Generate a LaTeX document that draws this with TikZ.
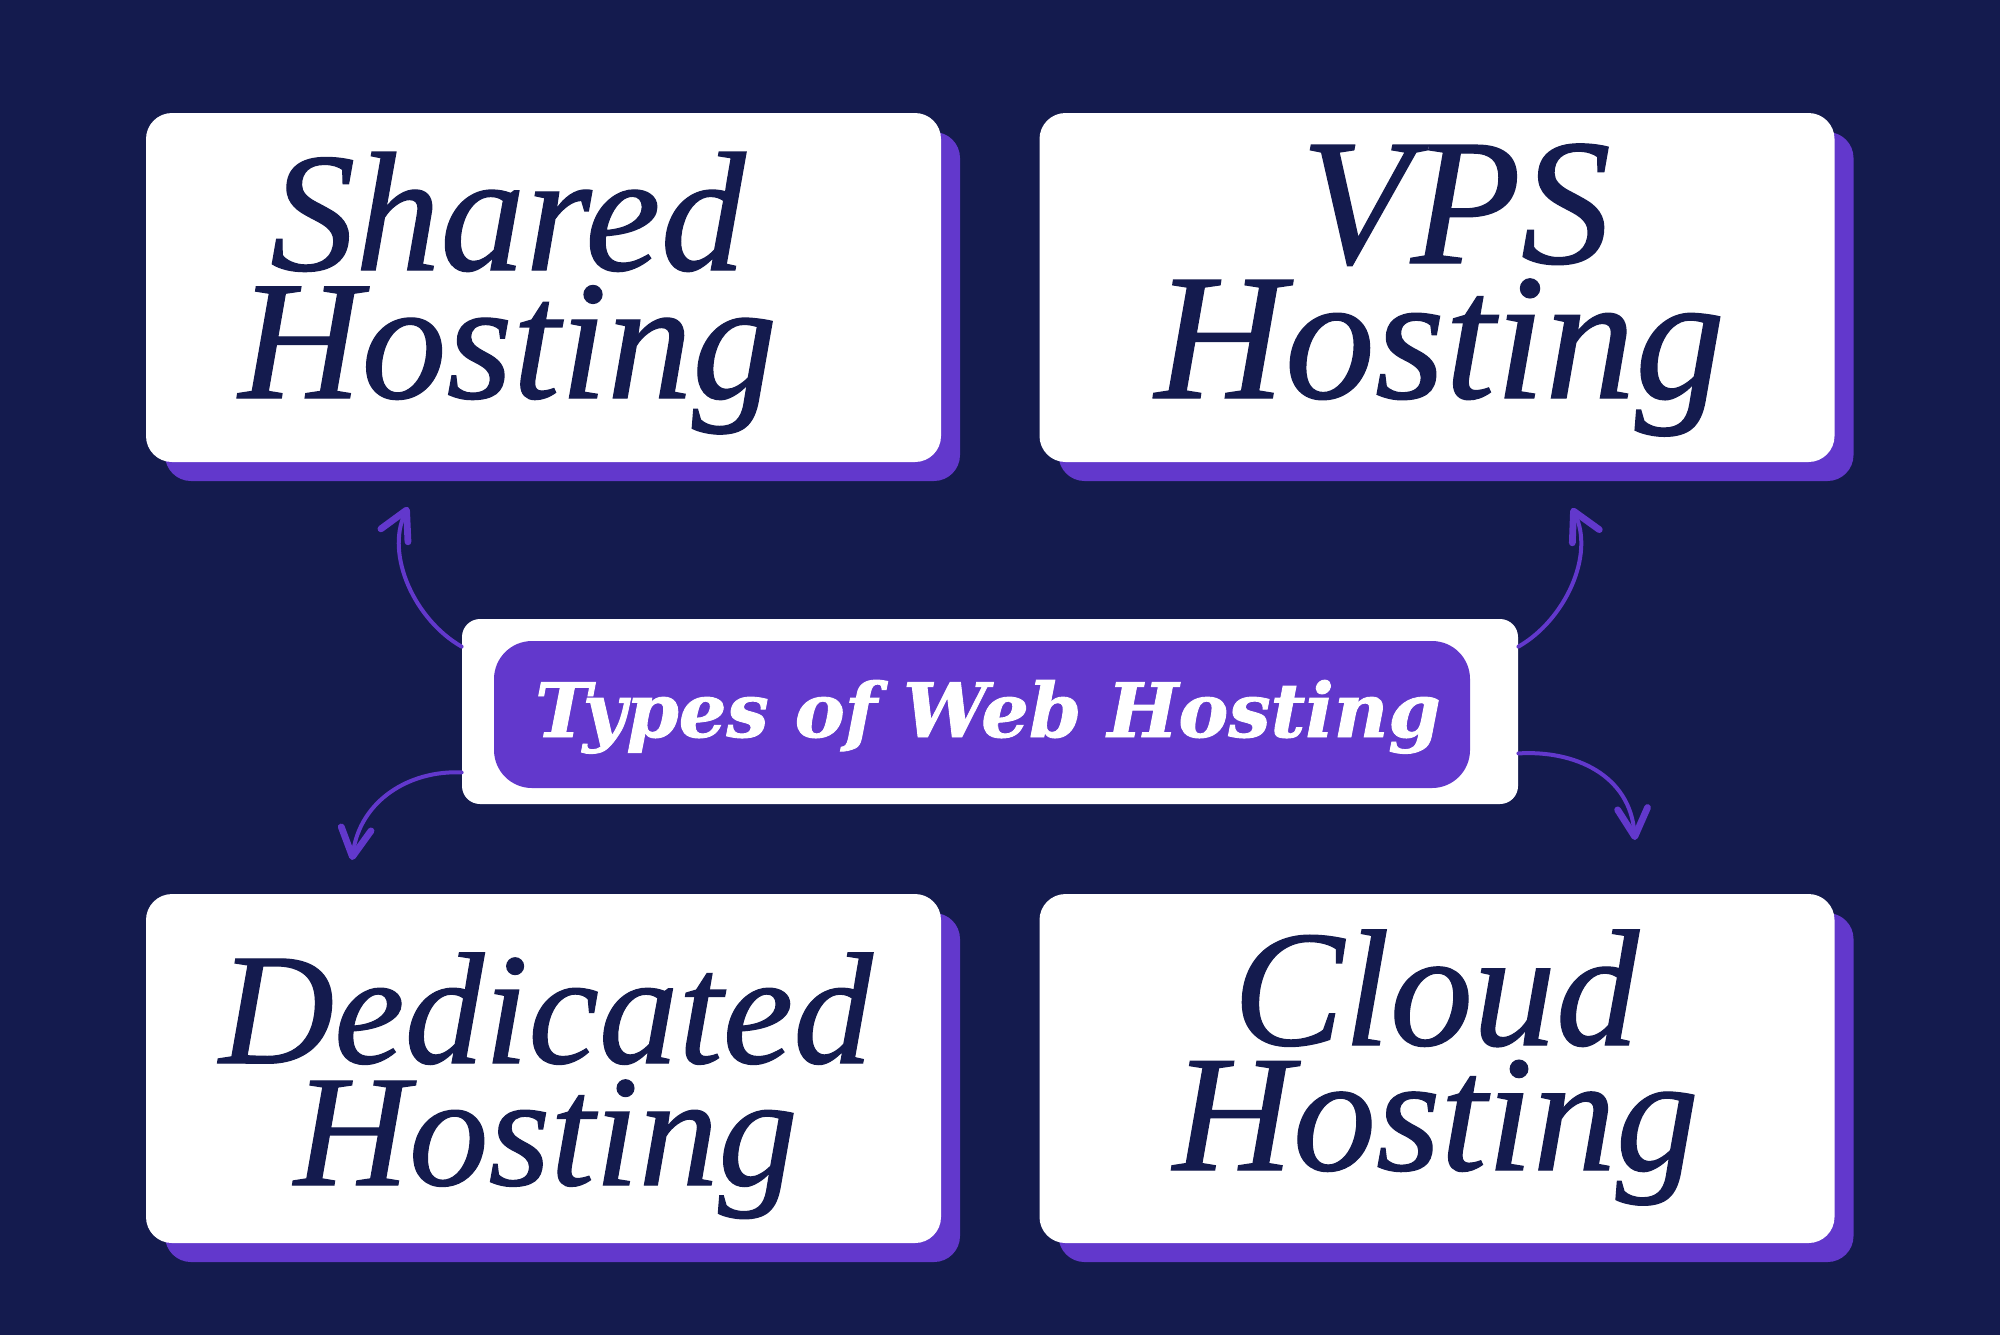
\documentclass[tikz,border=0pt]{standalone}
\usepackage{fontspec}
\usetikzlibrary{arrows.meta,calc,shadows}
\newfontfamily\boxfont{Liberation Serif}[UprightFont=* Italic, UprightFeatures={FakeBold=0.75}]
\newfontfamily\titlefont{DejaVu Serif}[UprightFont=* Bold Italic, UprightFeatures={FakeBold=1.2}]
\definecolor{navy}{HTML}{141B4E}
\definecolor{purp}{HTML}{6238CC}
\newcommand{\cardtext}[4]{\parbox[b]{390pt}{\centering\boxfont\fontsize{#1}{#2}\selectfont
  \lineskiplimit=-\maxdimen\lineskip=0pt #3\\#4}}
\begin{document}
\begin{tikzpicture}[x=0.5pt,y=-0.5pt,
  card/.style={rectangle, fill=white, rounded corners=13pt, minimum width=397.5pt,
    minimum height=174.5pt, inner sep=0pt,
    general shadow={fill=purp, shadow xshift=9.5pt, shadow yshift=-9.5pt}},
  lbl/.style={inner sep=0pt, text=navy, anchor=base},
  conn/.style={draw=purp, line width=2pt, line cap=round,
    -{Straight Barb[length=14pt,width=15pt,line width=3.4pt,round]}}
]
\useasboundingbox (0,0) rectangle (2000,1335);
\fill[navy] (0,0) rectangle (2000,1335);

% cards
\node[card] (shared) at (543.5,287.5) {};
\node[card] (vps) at (1437,287.5) {};
\node[card] (ded) at (543.5,1068.5) {};
\node[card] (cloud) at (1437,1068.5) {};

% labels
\node[lbl] (sharedt) at (508,398) {\cardtext{85pt}{64pt}{Shared}{Hosting}};
\node[lbl] (vpst) at (1440,398) {\cardtext{90pt}{67.5pt}{\hspace*{16pt}VPS}{Hosting}};
\node[lbl] (dedt) at (546,1185) {\cardtext{79.5pt}{61pt}{Dedicated}{Hosting}};
\node[lbl] (cloudt) at (1436,1170) {\cardtext{83pt}{62.5pt}{Cloud}{Hosting}};

% center
\node[rectangle, fill=white, rounded corners=9pt, minimum width=528pt,
  minimum height=92.5pt, inner sep=0pt] (mid) at (990,711.5) {};
\node[rectangle, fill=purp, rounded corners=19pt, minimum width=488pt,
  minimum height=73.5pt, inner sep=0pt] (midin) at (982,714.5) {};
\node[inner sep=0pt, anchor=base, text=white,
  font=\titlefont\fontsize{37.5pt}{38pt}\selectfont] (title) at (988,737) {Types of Web Hosting};

% connector ends
\coordinate (a1) at ($(mid.north west)+(0,28)$);
\coordinate (a2) at ($(mid.north east)+(0,28)$);
\coordinate (a3) at ($(mid.south west)+(0,-32)$);
\coordinate (a4) at ($(mid.south east)+(0,-51)$);
\coordinate (t1) at (408,507);
\coordinate (t2) at (1572,508);
\coordinate (t3) at (352,860);
\coordinate (t4) at (1635,840);

\draw[conn] (a1) .. controls (415,620) and (385,555) .. (t1);
\draw[conn] (a2) .. controls (1565,620) and (1595,555) .. (t2);
\draw[conn] (a3) .. controls (410,770) and (360,800) .. (t3);
\draw[conn] (a4) .. controls (1575,750) and (1630,775) .. (t4);
\end{tikzpicture}
\end{document}
